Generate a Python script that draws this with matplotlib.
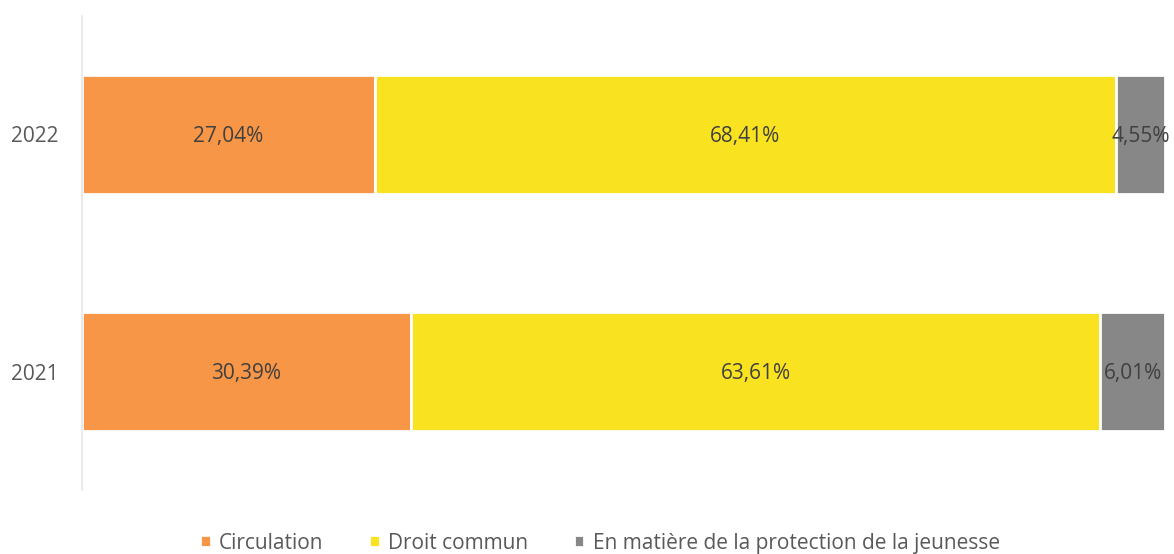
import matplotlib.pyplot as plt
import numpy as np

# ============================================================
# Data
# ============================================================
years = ["2021", "2022"]
series_names = ["Circulation", "Droit commun", "En matière de la protection de la jeunesse"]
circulation = [30.39, 27.04]
droit_commun = [63.61, 68.41]
jeunesse = [6.01, 4.55]
colors = ["#F79646", "#F9E21F", "#878787"]

plt.rcParams['font.family'] = ['Open Sans', 'DejaVu Sans']

fig = plt.figure(figsize=(11.74, 5.54), dpi=100)
ax = fig.add_axes([82 / 1174, 64 / 554, (1165 - 82) / 1174, (490 - 16) / 554])

y = np.arange(len(years))
left = np.zeros(len(years))
for name, vals, col in zip(series_names, [circulation, droit_commun, jeunesse], colors):
    vals = np.array(vals)
    ax.barh(y, vals, left=left, height=0.5, color=col, edgecolor="white",
            linewidth=2, label=name)
    for yi, l, v in zip(y, left, vals):
        ax.text(l + v / 2, yi - 0.008, f"{v:.2f}%".replace(".", ","), ha="center",
                va="center", fontsize=15, color="#404040")
    left += vals

ax.set_xlim(0, 100)
ax.set_ylim(-0.5, 1.5)
ax.set_yticks(y)
ax.set_yticklabels(years, fontsize=15, color="#595959")
ax.set_xticks([])
ax.tick_params(axis="y", length=0, pad=17)
for side in ["top", "right", "bottom"]:
    ax.spines[side].set_visible(False)
ax.spines["left"].set_color("#E6E6E6")
ax.spines["left"].set_linewidth(1.2)

ax.legend(loc="center", bbox_to_anchor=(518 / 1083, -0.112), ncol=3, frameon=False,
          fontsize=15, labelcolor="#595959", handlelength=0.5, handleheight=0.5,
          handletextpad=0.4, columnspacing=2.2)

plt.savefig("out.png", dpi=100)
